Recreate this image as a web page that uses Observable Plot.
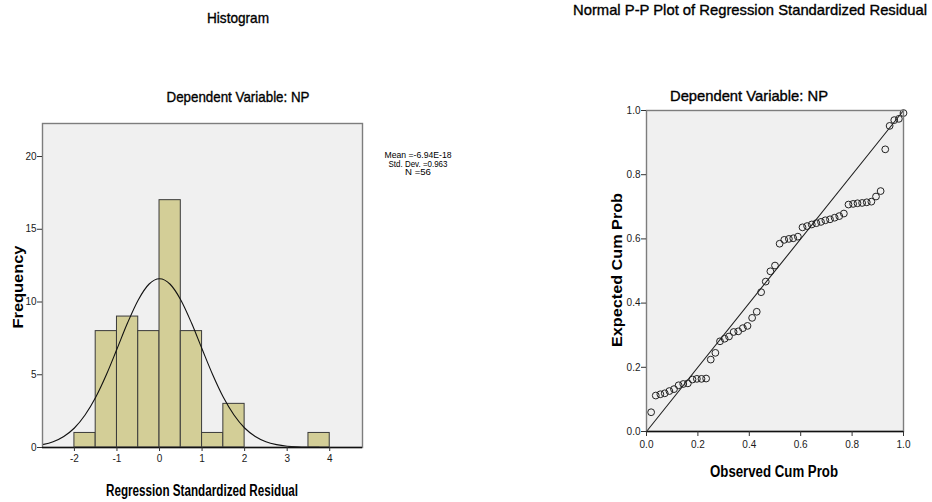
<!DOCTYPE html>
<html>
<head>
<meta charset="utf-8">
<script src="https://cdn.jsdelivr.net/npm/d3@7"></script>
<script src="https://cdn.jsdelivr.net/npm/@observablehq/plot@0.6"></script>
<style>
  html, body { margin: 0; padding: 0; background: #fff; }
  #root { position: relative; width: 932px; height: 502px; overflow: hidden; background: #fff; }
  #root > svg, #root > figure { position: absolute; margin: 0; }
  #overlay { left: 0; top: 0; pointer-events: none; }
</style>
</head>
<body>
<div id="root"></div>
<script>
// ---------- Data ----------
// Histogram of regression standardized residuals (bins of width 0.5)
const histBinLower = [-2, -1.5, -1, -0.5, 0, 0.5, 1, 1.5, 3.5];
const histBinUpper = [-1.5, -1, -0.5, 0, 0.5, 1, 1.5, 2, 4];
const histCounts   = [1, 8, 9, 8, 17, 8, 1, 3, 1];
const histXTicks   = [-2, -1, 0, 1, 2, 3, 4];
const histYTicks   = [0, 5, 10, 15, 20];

// Fitted normal curve
const normalX = [-2.75, -2.5, -2.25, -2, -1.75, -1.5, -1.25, -1, -0.75, -0.5, -0.25, 0,
                 0.25, 0.5, 0.75, 1, 1.25, 1.5, 1.75, 2, 2.25, 2.5, 2.75, 3, 3.25, 3.5, 3.75];
const normalY = [0.20, 0.40, 0.76, 1.34, 2.23, 3.45, 5.00, 6.77, 8.57, 10.14, 11.22, 11.60,
                 11.22, 10.14, 8.57, 6.77, 5.00, 3.45, 2.23, 1.34, 0.76, 0.40, 0.20, 0.09, 0.04, 0.02, 0.01];

const statsLines = ["Mean =-6.94E-18", "Std. Dev. =0.963", "N =56"];

// Normal P-P plot
const ppObserved = [0.018, 0.036, 0.054, 0.071, 0.089, 0.107, 0.125, 0.143, 0.161, 0.179,
                    0.196, 0.214, 0.232, 0.250, 0.268, 0.286, 0.304, 0.321, 0.339, 0.357,
                    0.375, 0.393, 0.411, 0.429, 0.446, 0.464, 0.482, 0.500, 0.518, 0.536,
                    0.554, 0.571, 0.589, 0.607, 0.625, 0.643, 0.661, 0.679, 0.696, 0.714,
                    0.732, 0.750, 0.768, 0.786, 0.804, 0.821, 0.839, 0.857, 0.875, 0.893,
                    0.911, 0.929, 0.946, 0.964, 0.982, 1.000];
const ppExpected = [0.060, 0.112, 0.116, 0.119, 0.126, 0.132, 0.144, 0.148, 0.150, 0.162,
                    0.164, 0.164, 0.165, 0.224, 0.245, 0.281, 0.289, 0.296, 0.310, 0.312,
                    0.322, 0.329, 0.354, 0.373, 0.434, 0.467, 0.499, 0.517, 0.585, 0.597,
                    0.600, 0.602, 0.607, 0.636, 0.640, 0.645, 0.649, 0.653, 0.658, 0.661,
                    0.666, 0.671, 0.679, 0.707, 0.709, 0.711, 0.712, 0.714, 0.716, 0.732,
                    0.749, 0.879, 0.952, 0.970, 0.974, 0.992];
const ppDiagonal = [0, 1];
const ppTicks = [0, 0.2, 0.4, 0.6, 0.8, 1.0];

// ---------- Build ----------
const root = document.getElementById("root");
const FONT = "'Liberation Sans', Arial, Helvetica, sans-serif";

const histData = histCounts.map((c, i) => ({x1: histBinLower[i], x2: histBinUpper[i], count: c}));
const normalData = normalX.map((x, i) => ({x, y: normalY[i]}));

const hist = Plot.plot({
  width: 470, height: 400,
  marginLeft: 42, marginRight: 108, marginTop: 23, marginBottom: 53,
  x: {domain: [-2.75, 4.77]},
  y: {domain: [0, 22.27]},
  style: {fontFamily: FONT, fontSize: "10px", color: "#1a1a1a", background: "transparent", overflow: "visible"},
  marks: [
    Plot.frame({fill: "#f0f0f0", stroke: null}),
    Plot.rectY(histData, {x1: "x1", x2: "x2", y: "count", fill: "#d3ce97", stroke: "#3a3a3a", strokeWidth: 1, inset: 0}),
    Plot.line(normalData, {x: "x", y: "y", stroke: "#111", strokeWidth: 1.1, curve: "monotone-x"}),
    Plot.frame({stroke: "#7d7d7d", strokeWidth: 1.4}),
    Plot.ruleY([0], {stroke: "#111", strokeWidth: 1.6}),
    Plot.axisX({ticks: histXTicks, tickSize: 4, tickPadding: 3, label: null, tickFormat: d => String(d), stroke: "#333"}),
    Plot.axisY({ticks: histYTicks, tickSize: 5, tickPadding: 1, label: null, tickFormat: d => String(d), stroke: "#333"})
  ]
});
hist.style.left = "0px";
hist.style.top = "100px";
root.appendChild(hist);

const ppData = ppObserved.map((x, i) => ({x, y: ppExpected[i]}));
const diagData = ppDiagonal.map(v => ({x: v, y: v}));

const pp = Plot.plot({
  width: 342, height: 400,
  marginLeft: 56, marginRight: 29, marginTop: 10, marginBottom: 69,
  x: {domain: [0, 1]},
  y: {domain: [0, 1]},
  style: {fontFamily: FONT, fontSize: "10px", color: "#1a1a1a", background: "transparent", overflow: "visible"},
  marks: [
    Plot.frame({fill: "#f0f0f0", stroke: null}),
    Plot.line(diagData, {x: "x", y: "y", stroke: "#222", strokeWidth: 1.1}),
    Plot.dot(ppData, {x: "x", y: "y", r: 3.4, stroke: "#222", fill: "none", strokeWidth: 1}),
    Plot.frame({stroke: "#7d7d7d", strokeWidth: 1.4}),
    Plot.ruleY([0], {stroke: "#111", strokeWidth: 1.6}),
    Plot.axisX({ticks: ppTicks, tickSize: 5, tickPadding: 4, label: null, tickFormat: d3.format(".1f"), stroke: "#333"}),
    Plot.axisY({ticks: ppTicks, tickSize: 5, tickPadding: 1, label: null, tickFormat: d3.format(".1f"), stroke: "#333"})
  ]
});
pp.style.left = "590px";
pp.style.top = "100px";
root.appendChild(pp);

// ---------- Titles and labels (overlay) ----------
const overlay = d3.create("svg")
  .attr("id", "overlay")
  .attr("width", 932).attr("height", 502)
  .style("font-family", FONT);

function label(text, x, y, len, size, weight, rotate, heavy) {
  const t = overlay.append("text")
    .attr("text-anchor", "middle")
    .attr("dominant-baseline", "central")
    .attr("font-size", size)
    .attr("font-weight", weight || "normal")
    .attr("fill", "#000")
    .attr("textLength", len)
    .attr("lengthAdjust", "spacingAndGlyphs")
    .text(text);
  if (heavy) t.attr("stroke", "#000").attr("stroke-width", heavy);
  if (rotate) t.attr("transform", `translate(${x},${y}) rotate(${rotate})`);
  else t.attr("x", x).attr("y", y);
  return t;
}

// Histogram panel
label("Histogram", 238, 17, 62, 15, "normal", 0, 0.35);
label("Dependent Variable: NP", 238, 96, 143, 15, "normal", 0, 0.35);
label("Frequency", 18, 287, 83, 14, "bold", -90);
label("Regression Standardized Residual", 202, 490, 192, 16, "bold");
statsLines.forEach((s, i) => {
  const lens = [67, 59, 26];
  label(s, 418, 155 + i * 8.5, lens[i], 9);
});

// P-P panel
label("Normal P-P Plot of Regression Standardized Residual", 750, 9, 354, 15, "normal", 0, 0.35);
label("Dependent Variable: NP", 749, 95, 158, 15, "normal", 0, 0.35);
label("Expected Cum Prob", 617, 270, 154, 14, "bold", -90);
label("Observed Cum Prob", 774, 471, 128, 16, "bold");

root.appendChild(overlay.node());
</script>
</body>
</html>
